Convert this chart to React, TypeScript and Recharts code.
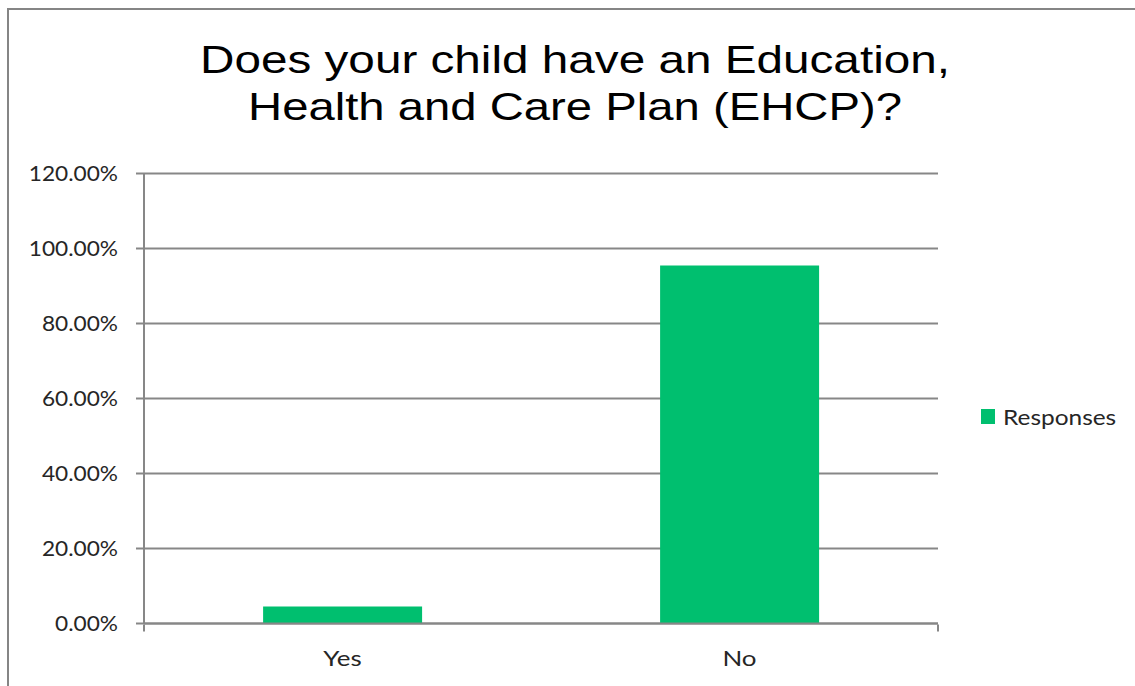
import React from 'react';
import { BarChart, Bar, XAxis, YAxis, CartesianGrid, Legend } from 'recharts';

const categories = ['Yes', 'No'];
const responses = [4.55, 95.45];
const yTicks = [0, 20, 40, 60, 80, 100, 120];
const edgeTicks = [0, 1, 2];

const titleLines = ['Does your child have an Education,', 'Health and Care Plan (EHCP)?'];
const seriesName = 'Responses';

const data = categories.map((c, i) => ({ name: c, value: responses[i] }));

const GREEN = '#00bf6f';
const GRID = '#878787';
const TEXT = '#262626';
const LABEL_FONT = 'Lato, "Open Sans", sans-serif';
const TITLE_FONT = '"Liberation Sans", Arial, sans-serif';

// the source picture is a bit stretched sideways, so the labels get a small scaleX
const YTick = ({ x, y, payload }: any) => (
  <g transform={`translate(${x},${y})`}>
    <text x={0} y={0} dy="0.355em" textAnchor="end" transform="scale(1.08,1)"
      style={{ fontFamily: LABEL_FONT, fontSize: 21, fill: TEXT }}>
      {`${Number(payload.value).toFixed(2)}%`}
    </text>
  </g>
);

const XTick = ({ x, y, payload }: any) => (
  <g transform={`translate(${x},${y})`}>
    <text x={0} y={0} dy="0.71em" textAnchor="middle" transform="scale(1.18,1)"
      style={{ fontFamily: LABEL_FONT, fontSize: 22, fill: TEXT }}>
      {payload.value}
    </text>
  </g>
);

const EmptyTick = () => <g />;

const LegendBox = () => (
  <div style={{ position: 'relative', height: 30, fontFamily: LABEL_FONT }}>
    <div style={{ position: 'absolute', left: 0, top: 6, width: 14, height: 15, background: GREEN }} />
    <div style={{
      position: 'absolute', left: 22, top: 0, fontSize: 22, lineHeight: '28px', color: TEXT,
      whiteSpace: 'nowrap', transform: 'scaleX(1.11)', transformOrigin: 'left center',
    }}>
      {seriesName}
    </div>
  </div>
);

export default function App() {
  return (
    <div style={{ position: 'absolute', left: 0, top: 0, width: 1135, height: 686, background: '#fff' }}>
      <div
        style={{
          position: 'absolute', left: 7, top: 8, width: 1128, height: 678, boxSizing: 'border-box',
          borderTop: '2px solid #858585', borderLeft: '2px solid #858585',
        }}
      />
      <div style={{ position: 'absolute', left: 0, top: 0 }}>
        <BarChart
          width={1135}
          height={686}
          data={data}
          barCategoryGap="30%"
          margin={{ top: 173.5, right: 197, bottom: 11.5, left: 0 }}
        >
          <text x={575} y={73} textAnchor="middle" textLength={750} lengthAdjust="spacingAndGlyphs"
            style={{ fontFamily: TITLE_FONT, fontSize: 39, fill: '#000' }}>
            {titleLines[0]}
          </text>
          <text x={575} y={120} textAnchor="middle" textLength={654} lengthAdjust="spacingAndGlyphs"
            style={{ fontFamily: TITLE_FONT, fontSize: 39, fill: '#000' }}>
            {titleLines[1]}
          </text>
          <CartesianGrid xAxisId="cat" vertical={false} stroke={GRID} strokeWidth={2} />
          {/* category axis sits on the plot edge; the boundary tick marks come from the axis below it */}
          <XAxis
            xAxisId="cat"
            dataKey="name"
            height={1}
            tickSize={0}
            tickMargin={27}
            axisLine={{ stroke: GRID, strokeWidth: 2 }}
            tickLine={false}
            tick={XTick}
          />
          <XAxis
            xAxisId="edge"
            type="number"
            domain={[0, 2]}
            allowDataOverflow
            ticks={edgeTicks}
            interval={0}
            height={50}
            axisLine={false}
            tickSize={7}
            tickLine={{ stroke: GRID, strokeWidth: 2 }}
            tick={EmptyTick}
          />
          <YAxis
            width={144}
            domain={[0, 120]}
            ticks={yTicks}
            interval={0}
            tickSize={8}
            tickMargin={18}
            axisLine={{ stroke: GRID, strokeWidth: 2 }}
            tickLine={{ stroke: GRID, strokeWidth: 2 }}
            tick={YTick}
          />
          <Legend
            layout="vertical"
            align="center"
            verticalAlign="middle"
            wrapperStyle={{ left: 981, top: 403, width: 150 }}
            content={LegendBox}
          />
          <Bar xAxisId="cat" dataKey="value" name={seriesName} fill={GREEN} isAnimationActive={false} />
        </BarChart>
      </div>
    </div>
  );
}
